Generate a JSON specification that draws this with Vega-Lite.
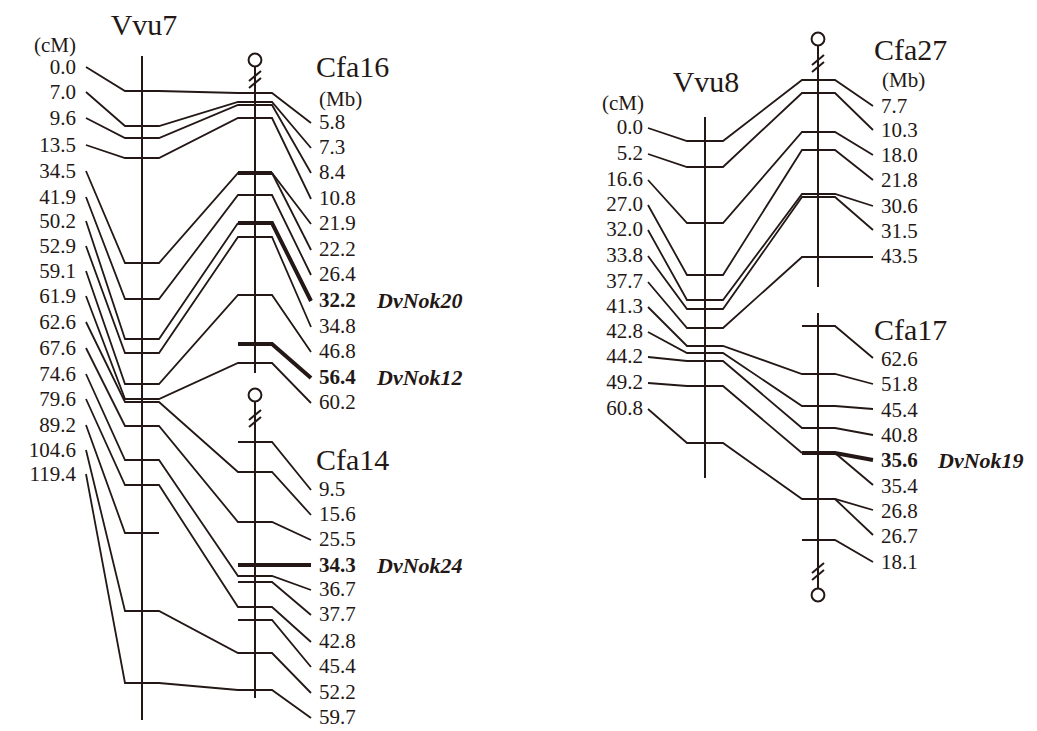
{
"$schema": "https://vega.github.io/schema/vega-lite/v6.json",
"width": 1037, "height": 731,
"autosize": {"type": "fit", "contains": "padding"},
"padding": 0,
"background": "white",
"config": {"view": {"stroke": null}},
"datasets": {
"links": [
{"p":"P1","o":1,"x":86,"y":67},{"p":"P1","o":2,"x":125,"y":91},{"p":"P1","o":3,"x":159,"y":91},{"p":"P1","o":4,"x":238,"y":93},{"p":"P1","o":5,"x":272,"y":93},{"p":"P1","o":6,"x":311,"y":123},
{"p":"P2","o":1,"x":86,"y":92},{"p":"P2","o":2,"x":125,"y":126},{"p":"P2","o":3,"x":159,"y":126},{"p":"P2","o":4,"x":238,"y":102},{"p":"P2","o":5,"x":272,"y":102},{"p":"P2","o":6,"x":311,"y":148},
{"p":"P3","o":1,"x":86,"y":118},{"p":"P3","o":2,"x":125,"y":138},{"p":"P3","o":3,"x":159,"y":138},{"p":"P3","o":4,"x":238,"y":105},{"p":"P3","o":5,"x":272,"y":105},{"p":"P3","o":6,"x":311,"y":173},
{"p":"P4","o":1,"x":86,"y":145},{"p":"P4","o":2,"x":125,"y":158},{"p":"P4","o":3,"x":159,"y":158},{"p":"P4","o":4,"x":238,"y":118},{"p":"P4","o":5,"x":272,"y":118},{"p":"P4","o":6,"x":311,"y":199},
{"p":"P5","o":1,"x":86,"y":171},{"p":"P5","o":2,"x":125,"y":263},{"p":"P5","o":3,"x":159,"y":263},{"p":"P5","o":4,"x":238,"y":173},{"p":"P5","o":5,"x":272,"y":173},{"p":"P5","o":6,"x":311,"y":224},
{"p":"P5b","o":1,"x":272,"y":173},{"p":"P5b","o":2,"x":311,"y":250},
{"p":"P6","o":1,"x":86,"y":197},{"p":"P6","o":2,"x":125,"y":299},{"p":"P6","o":3,"x":159,"y":299},{"p":"P6","o":4,"x":238,"y":195},{"p":"P6","o":5,"x":272,"y":195},{"p":"P6","o":6,"x":311,"y":275},
{"p":"P7","o":1,"x":86,"y":221},{"p":"P7","o":2,"x":125,"y":339},{"p":"P7","o":3,"x":159,"y":339},{"p":"P7","o":4,"x":238,"y":223},
{"p":"P8","o":1,"x":86,"y":246},{"p":"P8","o":2,"x":125,"y":353},{"p":"P8","o":3,"x":159,"y":353},{"p":"P8","o":4,"x":238,"y":237},{"p":"P8","o":5,"x":272,"y":237},{"p":"P8","o":6,"x":311,"y":327},
{"p":"P9","o":1,"x":86,"y":271},{"p":"P9","o":2,"x":125,"y":384},{"p":"P9","o":3,"x":159,"y":384},{"p":"P9","o":4,"x":238,"y":295},{"p":"P9","o":5,"x":272,"y":295},{"p":"P9","o":6,"x":311,"y":352},
{"p":"P10","o":1,"x":86,"y":296},{"p":"P10","o":2,"x":125,"y":399},{"p":"P10","o":3,"x":159,"y":399},{"p":"P10","o":4,"x":238,"y":363},{"p":"P10","o":5,"x":272,"y":363},{"p":"P10","o":6,"x":311,"y":403},
{"p":"P11","o":1,"x":86,"y":322},{"p":"P11","o":2,"x":125,"y":402},{"p":"P11","o":3,"x":159,"y":402},{"p":"P11","o":4,"x":238,"y":472},{"p":"P11","o":5,"x":272,"y":472},{"p":"P11","o":6,"x":311,"y":515},
{"p":"P12","o":1,"x":86,"y":348},{"p":"P12","o":2,"x":125,"y":426},{"p":"P12","o":3,"x":159,"y":426},{"p":"P12","o":4,"x":238,"y":522},{"p":"P12","o":5,"x":272,"y":522},{"p":"P12","o":6,"x":311,"y":540},
{"p":"P13","o":1,"x":86,"y":374},{"p":"P13","o":2,"x":125,"y":460},{"p":"P13","o":3,"x":159,"y":460},{"p":"P13","o":4,"x":238,"y":576},{"p":"P13","o":5,"x":272,"y":576},{"p":"P13","o":6,"x":311,"y":590},
{"p":"P14","o":1,"x":86,"y":399},{"p":"P14","o":2,"x":125,"y":485},{"p":"P14","o":3,"x":159,"y":485},{"p":"P14","o":4,"x":238,"y":607},{"p":"P14","o":5,"x":272,"y":607},{"p":"P14","o":6,"x":311,"y":642},
{"p":"P15","o":1,"x":86,"y":425},{"p":"P15","o":2,"x":125,"y":533},{"p":"P15","o":3,"x":159,"y":533},
{"p":"P16","o":1,"x":86,"y":450},{"p":"P16","o":2,"x":125,"y":611},{"p":"P16","o":3,"x":159,"y":611},{"p":"P16","o":4,"x":238,"y":653},{"p":"P16","o":5,"x":272,"y":653},{"p":"P16","o":6,"x":311,"y":693},
{"p":"P17","o":1,"x":86,"y":474},{"p":"P17","o":2,"x":125,"y":683},{"p":"P17","o":3,"x":159,"y":683},{"p":"P17","o":4,"x":238,"y":690},{"p":"P17","o":5,"x":272,"y":690},{"p":"P17","o":6,"x":311,"y":718},
{"p":"P19","o":1,"x":238,"y":442},{"p":"P19","o":2,"x":272,"y":442},{"p":"P19","o":3,"x":311,"y":490},
{"p":"P21","o":1,"x":238,"y":582},{"p":"P21","o":2,"x":272,"y":582},{"p":"P21","o":3,"x":311,"y":615},
{"p":"P22","o":1,"x":238,"y":620},{"p":"P22","o":2,"x":272,"y":620},{"p":"P22","o":3,"x":311,"y":667},
{"p":"Q1","o":1,"x":648,"y":128},{"p":"Q1","o":2,"x":687,"y":141},{"p":"Q1","o":3,"x":723,"y":141},{"p":"Q1","o":4,"x":802,"y":80},{"p":"Q1","o":5,"x":835,"y":80},{"p":"Q1","o":6,"x":873,"y":106},
{"p":"Q2","o":1,"x":648,"y":154},{"p":"Q2","o":2,"x":687,"y":167},{"p":"Q2","o":3,"x":723,"y":167},{"p":"Q2","o":4,"x":802,"y":93},{"p":"Q2","o":5,"x":835,"y":93},{"p":"Q2","o":6,"x":873,"y":130},
{"p":"Q3","o":1,"x":648,"y":180},{"p":"Q3","o":2,"x":687,"y":223},{"p":"Q3","o":3,"x":723,"y":223},{"p":"Q3","o":4,"x":802,"y":132},{"p":"Q3","o":5,"x":835,"y":132},{"p":"Q3","o":6,"x":873,"y":155},
{"p":"Q4","o":1,"x":648,"y":205},{"p":"Q4","o":2,"x":687,"y":275},{"p":"Q4","o":3,"x":723,"y":275},{"p":"Q4","o":4,"x":802,"y":150},{"p":"Q4","o":5,"x":835,"y":150},{"p":"Q4","o":6,"x":873,"y":180},
{"p":"Q5","o":1,"x":648,"y":230},{"p":"Q5","o":2,"x":687,"y":300},{"p":"Q5","o":3,"x":723,"y":300},{"p":"Q5","o":4,"x":802,"y":194},{"p":"Q5","o":5,"x":835,"y":194},{"p":"Q5","o":6,"x":873,"y":206},
{"p":"Q6","o":1,"x":648,"y":256},{"p":"Q6","o":2,"x":687,"y":309},{"p":"Q6","o":3,"x":723,"y":309},{"p":"Q6","o":4,"x":802,"y":197},{"p":"Q6","o":5,"x":835,"y":197},{"p":"Q6","o":6,"x":873,"y":230},
{"p":"Q7","o":1,"x":648,"y":282},{"p":"Q7","o":2,"x":687,"y":328},{"p":"Q7","o":3,"x":723,"y":328},{"p":"Q7","o":4,"x":802,"y":257},{"p":"Q7","o":5,"x":835,"y":257},{"p":"Q7","o":6,"x":873,"y":257},
{"p":"Q8","o":1,"x":648,"y":307},{"p":"Q8","o":2,"x":687,"y":346},{"p":"Q8","o":3,"x":723,"y":346},{"p":"Q8","o":4,"x":802,"y":374},{"p":"Q8","o":5,"x":835,"y":374},{"p":"Q8","o":6,"x":873,"y":384},
{"p":"Q9","o":1,"x":648,"y":332},{"p":"Q9","o":2,"x":687,"y":353},{"p":"Q9","o":3,"x":723,"y":353},{"p":"Q9","o":4,"x":802,"y":406},{"p":"Q9","o":5,"x":835,"y":406},{"p":"Q9","o":6,"x":873,"y":409},
{"p":"Q10","o":1,"x":648,"y":357},{"p":"Q10","o":2,"x":687,"y":361},{"p":"Q10","o":3,"x":723,"y":361},{"p":"Q10","o":4,"x":802,"y":428},{"p":"Q10","o":5,"x":835,"y":428},{"p":"Q10","o":6,"x":873,"y":435},
{"p":"Q11","o":1,"x":648,"y":383},{"p":"Q11","o":2,"x":687,"y":386},{"p":"Q11","o":3,"x":723,"y":386},{"p":"Q11","o":4,"x":802,"y":453},
{"p":"Q11b","o":1,"x":835,"y":453},{"p":"Q11b","o":2,"x":873,"y":485},
{"p":"Q12","o":1,"x":648,"y":409},{"p":"Q12","o":2,"x":687,"y":443},{"p":"Q12","o":3,"x":723,"y":443},{"p":"Q12","o":4,"x":802,"y":499},{"p":"Q12","o":5,"x":835,"y":499},{"p":"Q12","o":6,"x":873,"y":510},
{"p":"Q12b","o":1,"x":835,"y":499},{"p":"Q12b","o":2,"x":873,"y":535},
{"p":"Q13","o":1,"x":802,"y":326},{"p":"Q13","o":2,"x":835,"y":326},{"p":"Q13","o":3,"x":873,"y":358},
{"p":"Q14","o":1,"x":802,"y":540},{"p":"Q14","o":2,"x":835,"y":540},{"p":"Q14","o":3,"x":873,"y":562}
],
"bold": [
{"p":"T1","o":1,"x":238,"y":173},{"p":"T1","o":2,"x":272,"y":173},
{"p":"T2","o":1,"x":238,"y":223},{"p":"T2","o":2,"x":272,"y":223},{"p":"T2","o":3,"x":311,"y":301},
{"p":"T3","o":1,"x":238,"y":344},{"p":"T3","o":2,"x":272,"y":344},{"p":"T3","o":3,"x":311,"y":378},
{"p":"T4","o":1,"x":238,"y":565},{"p":"T4","o":2,"x":311,"y":565},
{"p":"T5","o":1,"x":802,"y":453},{"p":"T5","o":2,"x":835,"y":453},{"p":"T5","o":3,"x":873,"y":460}
],
"chrom": [
{"name":"Vvu7","x":142,"y":56,"x2":142,"y2":720},
{"name":"Cfa16","x":255,"y":67,"x2":255,"y2":373},
{"name":"Cfa14","x":255,"y":402,"x2":255,"y2":698},
{"name":"Vvu8","x":705,"y":117,"x2":705,"y2":478},
{"name":"Cfa27","x":818,"y":46,"x2":818,"y2":287},
{"name":"Cfa17","x":818,"y":313,"x2":818,"y2":588},
{"name":"brk","x":249,"y":81,"x2":261,"y2":71},
{"name":"brk","x":249,"y":88,"x2":261,"y2":78},
{"name":"brk","x":249,"y":420,"x2":261,"y2":410},
{"name":"brk","x":249,"y":427,"x2":261,"y2":417},
{"name":"brk","x":812,"y":65,"x2":824,"y2":55},
{"name":"brk","x":812,"y":72,"x2":824,"y2":62},
{"name":"brk","x":812,"y":573,"x2":824,"y2":563},
{"name":"brk","x":812,"y":580,"x2":824,"y2":570}
],
"ends": [
{"name":"Cfa16","x":255,"y":60},
{"name":"Cfa14","x":255,"y":395},
{"name":"Cfa27","x":818,"y":39},
{"name":"Cfa17","x":818,"y":595}
],
"labels": [
{"t":"Vvu7","k":"TC","x":144,"y":35},
{"t":"Vvu8","k":"TC","x":706,"y":92},
{"t":"Cfa16","k":"TL","x":316,"y":77},
{"t":"Cfa14","k":"TL","x":316,"y":470},
{"t":"Cfa27","k":"TL","x":874,"y":60},
{"t":"Cfa17","k":"TL","x":874,"y":340},
{"t":"(cM)","k":"L","x":76,"y":46},
{"t":"(Mb)","k":"R","x":319,"y":100},
{"t":"(cM)","k":"L","x":644,"y":104},
{"t":"(Mb)","k":"R","x":882,"y":81},
{"t":"0.0","k":"L","x":76,"y":68},{"t":"7.0","k":"L","x":76,"y":93},{"t":"9.6","k":"L","x":76,"y":119},{"t":"13.5","k":"L","x":76,"y":146},
{"t":"34.5","k":"L","x":76,"y":172},{"t":"41.9","k":"L","x":76,"y":198},{"t":"50.2","k":"L","x":76,"y":222},{"t":"52.9","k":"L","x":76,"y":247},
{"t":"59.1","k":"L","x":76,"y":272},{"t":"61.9","k":"L","x":76,"y":297},{"t":"62.6","k":"L","x":76,"y":323},{"t":"67.6","k":"L","x":76,"y":349},
{"t":"74.6","k":"L","x":76,"y":375},{"t":"79.6","k":"L","x":76,"y":400},{"t":"89.2","k":"L","x":76,"y":426},{"t":"104.6","k":"L","x":76,"y":451},
{"t":"119.4","k":"L","x":76,"y":475},
{"t":"5.8","k":"R","x":319,"y":123},{"t":"7.3","k":"R","x":319,"y":148},{"t":"8.4","k":"R","x":319,"y":173},{"t":"10.8","k":"R","x":319,"y":199},
{"t":"21.9","k":"R","x":319,"y":224},{"t":"22.2","k":"R","x":319,"y":250},{"t":"26.4","k":"R","x":319,"y":275},{"t":"32.2","k":"B","x":319,"y":301},
{"t":"34.8","k":"R","x":319,"y":327},{"t":"46.8","k":"R","x":319,"y":352},{"t":"56.4","k":"B","x":319,"y":378},{"t":"60.2","k":"R","x":319,"y":403},
{"t":"9.5","k":"R","x":319,"y":490},{"t":"15.6","k":"R","x":319,"y":515},{"t":"25.5","k":"R","x":319,"y":540},{"t":"34.3","k":"B","x":319,"y":566},
{"t":"36.7","k":"R","x":319,"y":590},{"t":"37.7","k":"R","x":319,"y":615},{"t":"42.8","k":"R","x":319,"y":642},{"t":"45.4","k":"R","x":319,"y":667},
{"t":"52.2","k":"R","x":319,"y":693},{"t":"59.7","k":"R","x":319,"y":718},
{"t":"DvNok20","k":"BI","x":377,"y":301},{"t":"DvNok12","k":"BI","x":377,"y":378},{"t":"DvNok24","k":"BI","x":377,"y":566},{"t":"DvNok19","k":"BI","x":938,"y":461},
{"t":"0.0","k":"L","x":643,"y":128},{"t":"5.2","k":"L","x":643,"y":154},{"t":"16.6","k":"L","x":643,"y":180},{"t":"27.0","k":"L","x":643,"y":205},
{"t":"32.0","k":"L","x":643,"y":230},{"t":"33.8","k":"L","x":643,"y":256},{"t":"37.7","k":"L","x":643,"y":282},{"t":"41.3","k":"L","x":643,"y":307},
{"t":"42.8","k":"L","x":643,"y":332},{"t":"44.2","k":"L","x":643,"y":357},{"t":"49.2","k":"L","x":643,"y":383},{"t":"60.8","k":"L","x":643,"y":409},
{"t":"7.7","k":"R","x":881,"y":107},{"t":"10.3","k":"R","x":881,"y":131},{"t":"18.0","k":"R","x":881,"y":156},{"t":"21.8","k":"R","x":881,"y":181},
{"t":"30.6","k":"R","x":881,"y":207},{"t":"31.5","k":"R","x":881,"y":232},{"t":"43.5","k":"R","x":881,"y":257},
{"t":"62.6","k":"R","x":881,"y":360},{"t":"51.8","k":"R","x":881,"y":385},{"t":"45.4","k":"R","x":881,"y":411},{"t":"40.8","k":"R","x":881,"y":436},
{"t":"35.6","k":"B","x":881,"y":461},{"t":"35.4","k":"R","x":881,"y":487},{"t":"26.8","k":"R","x":881,"y":512},{"t":"26.7","k":"R","x":881,"y":537},
{"t":"18.1","k":"R","x":881,"y":563}
]
},
"encoding": {
"x": {"field": "x", "type": "quantitative", "scale": {"domain": [0, 1037], "nice": false, "zero": false}, "axis": null},
"y": {"field": "y", "type": "quantitative", "scale": {"domain": [0, 731], "nice": false, "zero": false, "reverse": true}, "axis": null}
},
"layer": [
{"data": {"name": "chrom"}, "mark": {"type": "rule", "stroke": "#231815", "strokeWidth": 2}, "encoding": {"x2": {"field": "x2"}, "y2": {"field": "y2"}}},
{"data": {"name": "links"}, "mark": {"type": "line", "stroke": "#231815", "strokeWidth": 1.8, "strokeJoin": "miter"}, "encoding": {"detail": {"field": "p"}, "order": {"field": "o", "type": "quantitative"}}},
{"data": {"name": "bold"}, "mark": {"type": "line", "stroke": "#231815", "strokeWidth": 4, "strokeJoin": "miter"}, "encoding": {"detail": {"field": "p"}, "order": {"field": "o", "type": "quantitative"}}},
{"data": {"name": "ends"}, "mark": {"type": "point", "shape": "circle", "filled": false, "size": 165, "stroke": "#231815", "strokeWidth": 2, "opacity": 1}},
{"data": {"name": "labels"}, "transform": [{"filter": "datum.k === 'L'"}], "mark": {"type": "text", "align": "right", "baseline": "middle", "font": "Liberation Serif", "fontSize": 21, "fill": "#231815"}, "encoding": {"text": {"field": "t"}}},
{"data": {"name": "labels"}, "transform": [{"filter": "datum.k === 'R'"}], "mark": {"type": "text", "align": "left", "baseline": "middle", "font": "Liberation Serif", "fontSize": 21, "fill": "#231815"}, "encoding": {"text": {"field": "t"}}},
{"data": {"name": "labels"}, "transform": [{"filter": "datum.k === 'B'"}], "mark": {"type": "text", "align": "left", "baseline": "middle", "font": "Liberation Serif", "fontSize": 21, "fontWeight": "bold", "fill": "#231815"}, "encoding": {"text": {"field": "t"}}},
{"data": {"name": "labels"}, "transform": [{"filter": "datum.k === 'BI'"}], "mark": {"type": "text", "align": "left", "baseline": "middle", "font": "Liberation Serif", "fontSize": 22, "fontWeight": "bold", "fontStyle": "italic", "fill": "#231815"}, "encoding": {"text": {"field": "t"}}},
{"data": {"name": "labels"}, "transform": [{"filter": "datum.k === 'TC'"}], "mark": {"type": "text", "align": "center", "baseline": "alphabetic", "font": "Liberation Serif", "fontSize": 30, "fill": "#231815"}, "encoding": {"text": {"field": "t"}}},
{"data": {"name": "labels"}, "transform": [{"filter": "datum.k === 'TL'"}], "mark": {"type": "text", "align": "left", "baseline": "alphabetic", "font": "Liberation Serif", "fontSize": 30, "fill": "#231815"}, "encoding": {"text": {"field": "t"}}}
]
}
